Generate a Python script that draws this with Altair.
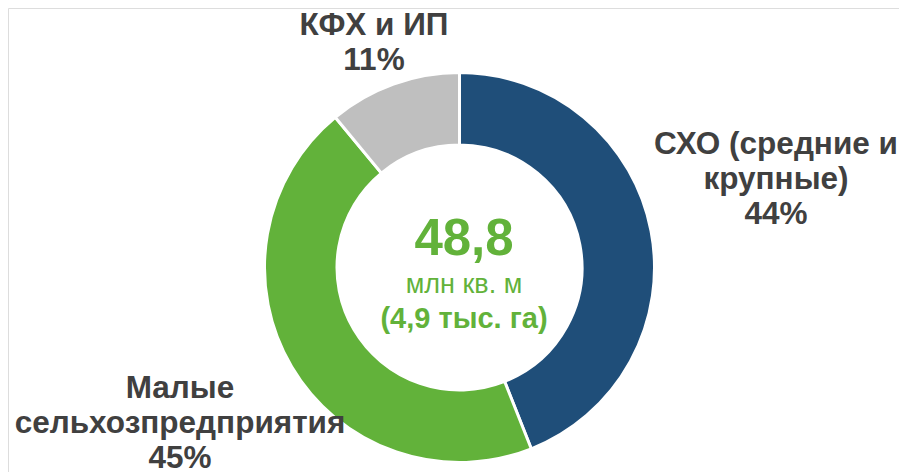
import altair as alt
import pandas as pd

# ---- data ----
categories = ["СХО (средние и крупные)", "Малые сельхозпредприятия", "КФХ и ИП"]
label_lines = ["СХО (средние и\nкрупные)", "Малые\nсельхозпредприятия", "КФХ и ИП"]
shares = [44, 45, 11]
slice_order = [1, 2, 3]
colors = ["#1F4E79", "#62B23A", "#BFBFBF"]

center_value = "48,8"
center_unit = "млн кв. м"
center_note = "(4,9 тыс. га)"

df = pd.DataFrame({
    "category": categories,
    "share": shares,
    "ord": slice_order,
    "label": [f"{l}\n{s}%" for l, s in zip(label_lines, shares)],
})

FONT = "Liberation Sans"
TXT = "#404040"
GREEN = "#62B23A"
CX, CY = 451.5, 259.5

base = alt.Chart(df)

arcs = base.mark_arc(innerRadius=122.5, outerRadius=195, stroke="white", strokeWidth=3).encode(
    theta=alt.Theta("share:Q", stack=True, scale=alt.Scale(domain=[0, 100])),
    order=alt.Order("ord:Q"),
    color=alt.Color("category:N", scale=alt.Scale(domain=categories, range=colors), legend=None),
    x=alt.value(CX),
    y=alt.value(CY),
)

label_pos = {
    categories[0]: (768, 146),
    categories[1]: (172, 390),
    categories[2]: (366, 27),
}

label_layers = []
for cat, (lx, ly) in label_pos.items():
    label_layers.append(
        base.transform_filter(alt.datum.category == cat)
        .mark_text(font=FONT, fontSize=31.5, fontWeight="bold", color=TXT, align="center",
                   baseline="alphabetic", lineBreak="\n", lineHeight=35, x=lx, y=ly)
        .encode(text="label:N")
    )

center_df = pd.DataFrame({"t": [center_value]})
c1 = alt.Chart(center_df).mark_text(font=FONT, fontSize=51, fontWeight="bold", color=GREEN,
                                   align="center", baseline="alphabetic", x=456, y=247).encode(
    text=alt.value(center_value))
c2 = alt.Chart(center_df).mark_text(font=FONT, fontSize=27, color=GREEN,
                                   align="center", baseline="alphabetic", x=456, y=285).encode(
    text=alt.value(center_unit))
c3 = alt.Chart(center_df).mark_text(font=FONT, fontSize=29, fontWeight="bold", color=GREEN,
                                   align="center", baseline="alphabetic", x=456, y=320).encode(
    text=alt.value(center_note))

chart = alt.layer(arcs, *label_layers, c1, c2, c3).properties(
    width=891, height=464, padding=0, autosize=alt.AutoSizeParams(type="none")
).configure_view(stroke=None).configure(background="white")

chart.save("out.html", embed_options={"renderer": "svg", "actions": False})
